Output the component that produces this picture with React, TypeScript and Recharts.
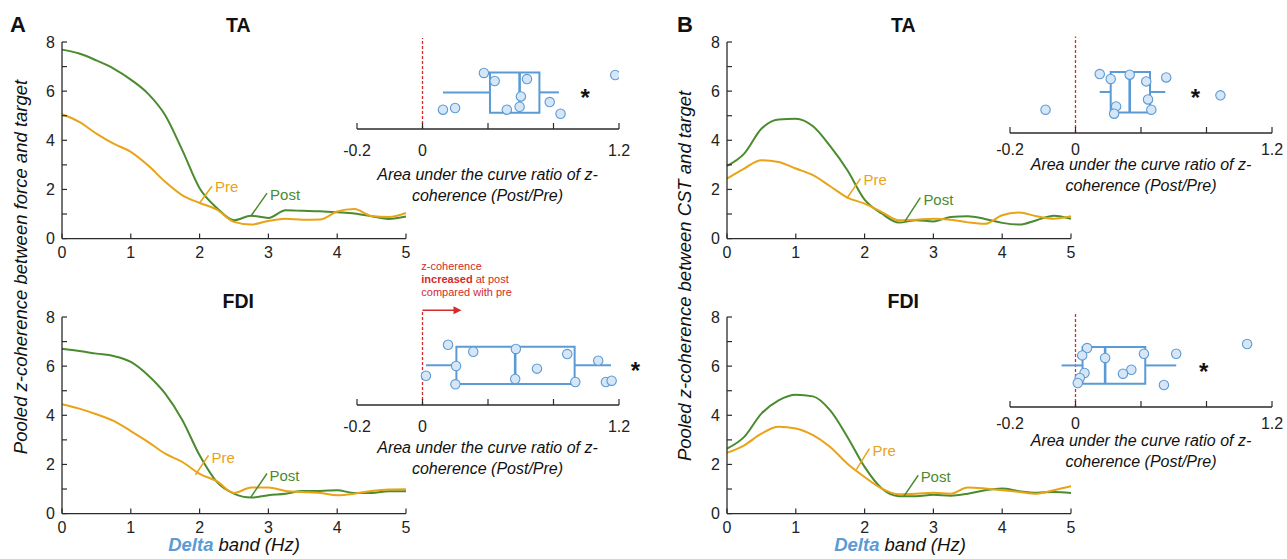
import React from 'react'
import {
  LineChart,
  Line,
  XAxis,
  YAxis,
  ScatterChart,
  Scatter,
  ReferenceLine,
  ReferenceDot,
  ReferenceArea,
} from 'recharts'

const FONT = '"Liberation Sans", Arial, sans-serif'
const GREEN = '#4b8b2f'
const ORANGE = '#e8a317'
const BLUE = '#5b9bd5'
const PT_FILL = '#d7e6f6'
const RED = '#d42a2a'
const AXIS = '#2b2b2b'

// frequency grid (Hz) shared by all coherence curves
const hz = [0, 0.25, 0.5, 0.75, 1, 1.25, 1.5, 1.75, 2, 2.25, 2.5, 2.75, 3, 3.25, 3.5, 3.75, 4, 4.25, 4.5, 4.75, 5]
const xTicks = [0, 1, 2, 3, 4, 5]
const yTicks = [0, 1, 2, 3, 4, 5, 6, 7, 8]

// A: force vs target
const taForcePost = [7.69, 7.53, 7.25, 6.92, 6.47, 5.9, 5.02, 3.59, 2.05, 1.25, 0.75, 0.93, 0.84, 1.15, 1.13, 1.11, 1.07, 1.02, 0.91, 0.8, 0.9]
const taForcePre = [5.06, 4.75, 4.27, 3.86, 3.53, 2.98, 2.31, 1.76, 1.45, 1.18, 0.68, 0.57, 0.72, 0.81, 0.77, 0.78, 1.1, 1.2, 0.92, 0.88, 1.04]
const fdiForcePost = [6.71, 6.62, 6.51, 6.41, 6.17, 5.63, 4.88, 3.8, 2.37, 1.29, 0.81, 0.65, 0.75, 0.81, 0.92, 0.92, 0.95, 0.84, 0.84, 0.91, 0.91]
const fdiForcePre = [4.45, 4.27, 4.04, 3.77, 3.36, 2.92, 2.44, 2.1, 1.62, 1.32, 0.84, 1.06, 1.06, 0.92, 0.88, 0.84, 0.75, 0.81, 0.92, 0.98, 0.99]

// B: CST vs target
const taCstPost = [2.96, 3.46, 4.47, 4.85, 4.88, 4.57, 3.76, 2.78, 1.59, 1.02, 0.65, 0.75, 0.7, 0.88, 0.91, 0.8, 0.64, 0.57, 0.75, 0.93, 0.81]
const taCstPre = [2.44, 2.85, 3.19, 3.12, 2.85, 2.58, 2.13, 1.67, 1.42, 1.08, 0.75, 0.77, 0.81, 0.77, 0.66, 0.6, 0.95, 1.06, 0.91, 0.81, 0.91]
const fdiCstPost = [2.64, 3.12, 4.07, 4.61, 4.84, 4.77, 4.2, 3.12, 1.9, 1.02, 0.71, 0.71, 0.77, 0.73, 0.81, 0.95, 1.02, 0.91, 0.85, 0.88, 0.84]
const fdiCstPre = [2.47, 2.78, 3.25, 3.53, 3.46, 3.19, 2.71, 2.03, 1.49, 1.02, 0.79, 0.81, 0.85, 0.81, 1.06, 1.02, 0.95, 0.88, 0.81, 0.95, 1.11]

// Pre / Post call-outs: [start, end, label] in data units
const taForcePreNote = [[2.0, 1.45], [2.18, 2.13], [2.21, 2.13]]
const taForcePostNote = [[2.75, 0.93], [2.98, 1.85], [3.01, 1.8]]
const fdiForcePreNote = [[1.94, 1.58], [2.13, 2.37], [2.16, 2.27]]
const fdiForcePostNote = [[2.74, 0.65], [2.98, 1.63], [3.0, 1.56]]
const taCstPreNote = [[1.74, 1.63], [1.94, 2.44], [1.97, 2.4]]
const taCstPostNote = [[2.59, 0.72], [2.81, 1.67], [2.84, 1.6]]
const fdiCstPreNote = [[1.88, 1.79], [2.07, 2.64], [2.1, 2.55]]
const fdiCstPostNote = [[2.57, 0.7], [2.78, 1.56], [2.8, 1.52]]

// inset: AUC ratio (Post/Pre), one value per participant, plus vertical jitter
const insetTicks = [-0.4, 0, 0.4, 0.8, 1.2]
const insetTickLabels = ['-0.2', '0', '', '', '1.2']

const taForceRatio = [0.375, 0.441, 0.638, 0.601, 0.593, 0.515, 0.125, 0.199, 0.777, 0.843, 1.177]
const taForceJitter = [0.609, 0.522, 0.543, 0.354, 0.242, 0.21, 0.21, 0.228, 0.293, 0.166, 0.587]
const fdiForceRatio = [0.156, 0.31, 0.57, 0.884, 0.699, 0.205, 0.201, 0.021, 0.566, 0.933, 1.073, 1.12, 1.155]
const fdiForceJitter = [0.655, 0.579, 0.609, 0.554, 0.395, 0.424, 0.225, 0.318, 0.283, 0.25, 0.482, 0.25, 0.264]
const taCstRatio = [0.148, 0.215, 0.331, 0.432, 0.554, 0.443, 0.463, 0.248, 0.236, -0.183, 0.885]
const taCstJitter = [0.641, 0.587, 0.634, 0.561, 0.604, 0.365, 0.253, 0.289, 0.21, 0.253, 0.409]
const fdiCstRatio = [0.071, 0.041, 0.181, 0.418, 0.615, 0.341, 0.29, 0.055, 0.026, 0.014, 0.54, 1.048]
const fdiCstJitter = [0.641, 0.561, 0.533, 0.579, 0.579, 0.405, 0.362, 0.37, 0.315, 0.261, 0.239, 0.685]

// box stats: [whiskerLo, q1, median, q3, whiskerHi]; band: [yLo, yMid, yHi]
const taForceBox = [0.125, 0.412, 0.593, 0.714, 0.833]
const fdiForceBox = [0.021, 0.207, 0.566, 0.929, 1.151]
const taCstBox = [0.148, 0.215, 0.331, 0.455, 0.548]
const fdiCstBox = [-0.085, 0.043, 0.181, 0.426, 0.615]
const taForceBand = [0.177, 0.398, 0.615]
const fdiForceBand = [0.228, 0.432, 0.634]
const taCstBand = [0.224, 0.446, 0.663]
const fdiCstBand = [0.253, 0.452, 0.652]

// significance star positions
const taForceStar = [0.993, 0.39]
const fdiForceStar = [1.3, 0.42]
const taCstStar = [0.733, 0.43]
const fdiCstStar = [0.782, 0.43]

const PLOT_W = 344
const PLOT_H = 196.6
const PAD_L = 50
const PAD_T = 10
const PAD_R = 14
const PAD_B = 32

const mainYTick = (p: any) => {
  const { x, y, payload } = p
  return (
    <g>
      <line x1={x} y1={y} x2={x + 5} y2={y} stroke={AXIS} strokeWidth={1.2} />
      {payload.value % 2 === 0 && (
        <text x={x - 7} y={y} dy="0.36em" textAnchor="end" fontSize={16} fontFamily={FONT} fill="#222">
          {payload.value}
        </text>
      )}
    </g>
  )
}

const mainXTick = (p: any) => {
  const { x, y, payload } = p
  return (
    <g>
      <line x1={x} y1={y} x2={x} y2={y - 5} stroke={AXIS} strokeWidth={1.2} />
      <text x={x} y={y + 19} textAnchor="middle" fontSize={16} fontFamily={FONT} fill="#222">
        {payload.value}
      </text>
    </g>
  )
}

function noteText(label: string, color: string) {
  return (p: any) => (
    <text x={p.cx + 1} y={p.cy} dy="0.36em" fontSize={15} fontFamily={FONT} fill={color}>
      {label}
    </text>
  )
}

function CoherencePanel({ left, top, post, pre, preNote, postNote }: any) {
  const data = hz.map((x, i) => ({ x, post: post[i], pre: pre[i] }))
  return (
    <div style={{ position: 'absolute', left: left - PAD_L, top: top - PAD_T }}>
      <LineChart
        width={PLOT_W + PAD_L + PAD_R}
        height={PLOT_H + PAD_T + PAD_B}
        data={data}
        margin={{ top: PAD_T, right: PAD_R, bottom: PAD_B - 30, left: PAD_L - 40 }}
      >
        <XAxis
          dataKey="x"
          type="number"
          domain={[0, 5]}
          ticks={xTicks}
          interval={0}
          height={30}
          tickSize={0}
          tickMargin={0}
          tick={mainXTick}
          axisLine={{ stroke: AXIS, strokeWidth: 1.3 }}
        />
        <YAxis
          type="number"
          domain={[0, 8]}
          ticks={yTicks}
          interval={0}
          width={40}
          tickSize={0}
          tickMargin={0}
          tick={mainYTick}
          axisLine={{ stroke: AXIS, strokeWidth: 1.3 }}
        />
        <Line type="monotone" dataKey="post" stroke={GREEN} strokeWidth={2} dot={false} isAnimationActive={false} />
        <Line type="monotone" dataKey="pre" stroke={ORANGE} strokeWidth={2} dot={false} isAnimationActive={false} />
        <ReferenceLine
          segment={[{ x: preNote[0][0], y: preNote[0][1] }, { x: preNote[1][0], y: preNote[1][1] }]}
          stroke={ORANGE}
          strokeWidth={1.5}
          ifOverflow="visible"
        />
        <ReferenceLine
          segment={[{ x: postNote[0][0], y: postNote[0][1] }, { x: postNote[1][0], y: postNote[1][1] }]}
          stroke={GREEN}
          strokeWidth={1.5}
          ifOverflow="visible"
        />
        <ReferenceDot x={preNote[2][0]} y={preNote[2][1]} r={0} ifOverflow="visible" shape={noteText('Pre', ORANGE)} />
        <ReferenceDot x={postNote[2][0]} y={postNote[2][1]} r={0} ifOverflow="visible" shape={noteText('Post', GREEN)} />
      </LineChart>
    </div>
  )
}

const IN_W = 262
const IN_H = 92
const IN_L = 20
const IN_T = 14
const IN_R = 34

function RatioInset({ plotX, axisY, ratio, jitter, box, band, star, redTop, labelDrop, arrow }: any) {
  const pts = ratio.map((r: number, i: number) => ({ r, j: jitter[i] }))
  const insetTick = (p: any) => {
    const { x, y, index } = p
    return (
      <g>
        <line x1={x} y1={y} x2={x} y2={y - 6} stroke={AXIS} strokeWidth={1.2} />
        <text x={x} y={y + labelDrop} textAnchor="middle" fontSize={16} fontFamily={FONT} fill="#222">
          {insetTickLabels[index]}
        </text>
      </g>
    )
  }
  return (
    <div style={{ position: 'absolute', left: plotX - IN_L, top: axisY - IN_H - IN_T }}>
      <ScatterChart
        width={IN_W + IN_L + IN_R}
        height={IN_H + IN_T + 30}
        margin={{ top: IN_T, right: IN_R, bottom: 0, left: IN_L }}
      >
        <XAxis
          dataKey="r"
          type="number"
          domain={[-0.4, 1.2]}
          allowDataOverflow
          ticks={insetTicks}
          interval={0}
          height={30}
          tickSize={0}
          tickMargin={0}
          tick={insetTick}
          axisLine={{ stroke: AXIS, strokeWidth: 1.3 }}
        />
        <YAxis dataKey="j" type="number" domain={[0, 1]} allowDataOverflow hide width={0} />
        <ReferenceLine
          segment={[{ x: 0, y: 0 }, { x: 0, y: redTop }]}
          stroke={RED}
          strokeWidth={1.3}
          strokeDasharray="3 2"
          ifOverflow="visible"
        />
        {arrow && (
          <ReferenceLine
            segment={[{ x: 0, y: redTop }, { x: arrow - 0.04, y: redTop }]}
            stroke={RED}
            strokeWidth={1.5}
            ifOverflow="visible"
          />
        )}
        {arrow && (
          <ReferenceDot
            x={arrow}
            y={redTop}
            r={0}
            ifOverflow="visible"
            shape={(p: any) => (
              <path d={`M${p.cx},${p.cy} L${p.cx - 8},${p.cy - 4} L${p.cx - 8},${p.cy + 4} Z`} fill={RED} />
            )}
          />
        )}
        <ReferenceArea
          x1={box[1]}
          x2={box[3]}
          y1={band[0]}
          y2={band[2]}
          fill="none"
          fillOpacity={0}
          stroke={BLUE}
          strokeWidth={2}
          ifOverflow="visible"
        />
        <ReferenceLine segment={[{ x: box[2], y: band[0] }, { x: box[2], y: band[2] }]} stroke={BLUE} strokeWidth={2.6} ifOverflow="visible" />
        <ReferenceLine segment={[{ x: box[0], y: band[1] }, { x: box[1], y: band[1] }]} stroke={BLUE} strokeWidth={2} ifOverflow="visible" />
        <ReferenceLine segment={[{ x: box[3], y: band[1] }, { x: box[4], y: band[1] }]} stroke={BLUE} strokeWidth={2} ifOverflow="visible" />
        <Scatter
          data={pts}
          isAnimationActive={false}
          shape={(p: any) => <circle cx={p.cx} cy={p.cy} r={4.7} fill={PT_FILL} stroke={BLUE} strokeWidth={1.1} />}
        />
        <ReferenceDot
          x={star[0]}
          y={star[1]}
          r={0}
          ifOverflow="visible"
          shape={(p: any) => (
            <text x={p.cx} y={p.cy + 13} textAnchor="middle" fontSize={24} fontWeight="bold" fontFamily={FONT} fill="#111">
              *
            </text>
          )}
        />
      </ScatterChart>
    </div>
  )
}

const txt = { fontFamily: FONT, fill: '#111' }

export default function App() {
  return (
    <div style={{ position: 'absolute', left: 0, top: 0, width: 1287, height: 559, background: '#fff', overflow: 'hidden' }}>
      <CoherencePanel left={61.7} top={41.7} post={taForcePost} pre={taForcePre} preNote={taForcePreNote} postNote={taForcePostNote} />
      <CoherencePanel left={61.7} top={316.7} post={fdiForcePost} pre={fdiForcePre} preNote={fdiForcePreNote} postNote={fdiForcePostNote} />
      <CoherencePanel left={726.7} top={41.7} post={taCstPost} pre={taCstPre} preNote={taCstPreNote} postNote={taCstPostNote} />
      <CoherencePanel left={726.7} top={316.7} post={fdiCstPost} pre={fdiCstPre} preNote={fdiCstPreNote} postNote={fdiCstPostNote} />

      <RatioInset plotX={356.7} axisY={129.3} ratio={taForceRatio} jitter={taForceJitter} box={taForceBox} band={taForceBand} star={taForceStar} redTop={0.99} labelDrop={26.5} />
      <RatioInset plotX={356.7} axisY={405} ratio={fdiForceRatio} jitter={fdiForceJitter} box={fdiForceBox} band={fdiForceBand} star={fdiForceStar} redTop={1.03} labelDrop={26.5} arrow={0.238} />
      <RatioInset plotX={1010} axisY={133.3} ratio={taCstRatio} jitter={taCstJitter} box={taCstBox} band={taCstBand} star={taCstStar} redTop={1.05} labelDrop={22} />
      <RatioInset plotX={1010} axisY={407.3} ratio={fdiCstRatio} jitter={fdiCstJitter} box={fdiCstBox} band={fdiCstBand} star={fdiCstStar} redTop={1.02} labelDrop={22} />

      <svg width={1287} height={559} style={{ position: 'absolute', left: 0, top: 0, pointerEvents: 'none' }}>
        <text x={10} y={31.7} fontSize={22} fontWeight="bold" {...txt}>A</text>
        <text x={677} y={31.7} fontSize={22} fontWeight="bold" {...txt}>B</text>
        <text x={238.3} y={31.7} fontSize={19.5} fontWeight="bold" textAnchor="middle" {...txt}>TA</text>
        <text x={903.3} y={31.7} fontSize={19.5} fontWeight="bold" textAnchor="middle" {...txt}>TA</text>
        <text x={238.3} y={308.3} fontSize={19.5} fontWeight="bold" textAnchor="middle" {...txt}>FDI</text>
        <text x={903.3} y={308.3} fontSize={19.5} fontWeight="bold" textAnchor="middle" {...txt}>FDI</text>

        <text transform="translate(27,267) rotate(-90)" fontSize={18.5} fontStyle="italic" textAnchor="middle" {...txt}>
          Pooled z-coherence  between force and target
        </text>
        <text transform="translate(691,276) rotate(-90)" fontSize={18.5} fontStyle="italic" textAnchor="middle" {...txt}>
          Pooled z-coherence  between CST and target
        </text>

        {[234, 900].map((cx) => (
          <text key={cx} x={cx} y={551} fontSize={18.5} fontStyle="italic" textAnchor="middle" {...txt}>
            <tspan fontWeight="bold" fill={BLUE}>Delta</tspan> band (Hz)
          </text>
        ))}

        {[
          [487.5, 180],
          [487.5, 453],
          [1141, 170],
          [1141, 446],
        ].map(([cx, by]) => (
          <text key={`${cx}-${by}`} fontSize={16} fontStyle="italic" textAnchor="middle" {...txt}>
            <tspan x={cx} y={by}>Area under the curve ratio of z-</tspan>
            <tspan x={cx} y={by + 20.5}>coherence (Post/Pre)</tspan>
          </text>
        ))}

        <text fontSize={11} fontFamily={FONT} fill={RED}>
          <tspan x={421.3} y={270}>z-coherence</tspan>
          <tspan x={421.3} y={283}>
            <tspan fontWeight="bold">increased</tspan> at post
          </tspan>
          <tspan x={421.3} y={296}>compared with pre</tspan>
        </text>
      </svg>
    </div>
  )
}
